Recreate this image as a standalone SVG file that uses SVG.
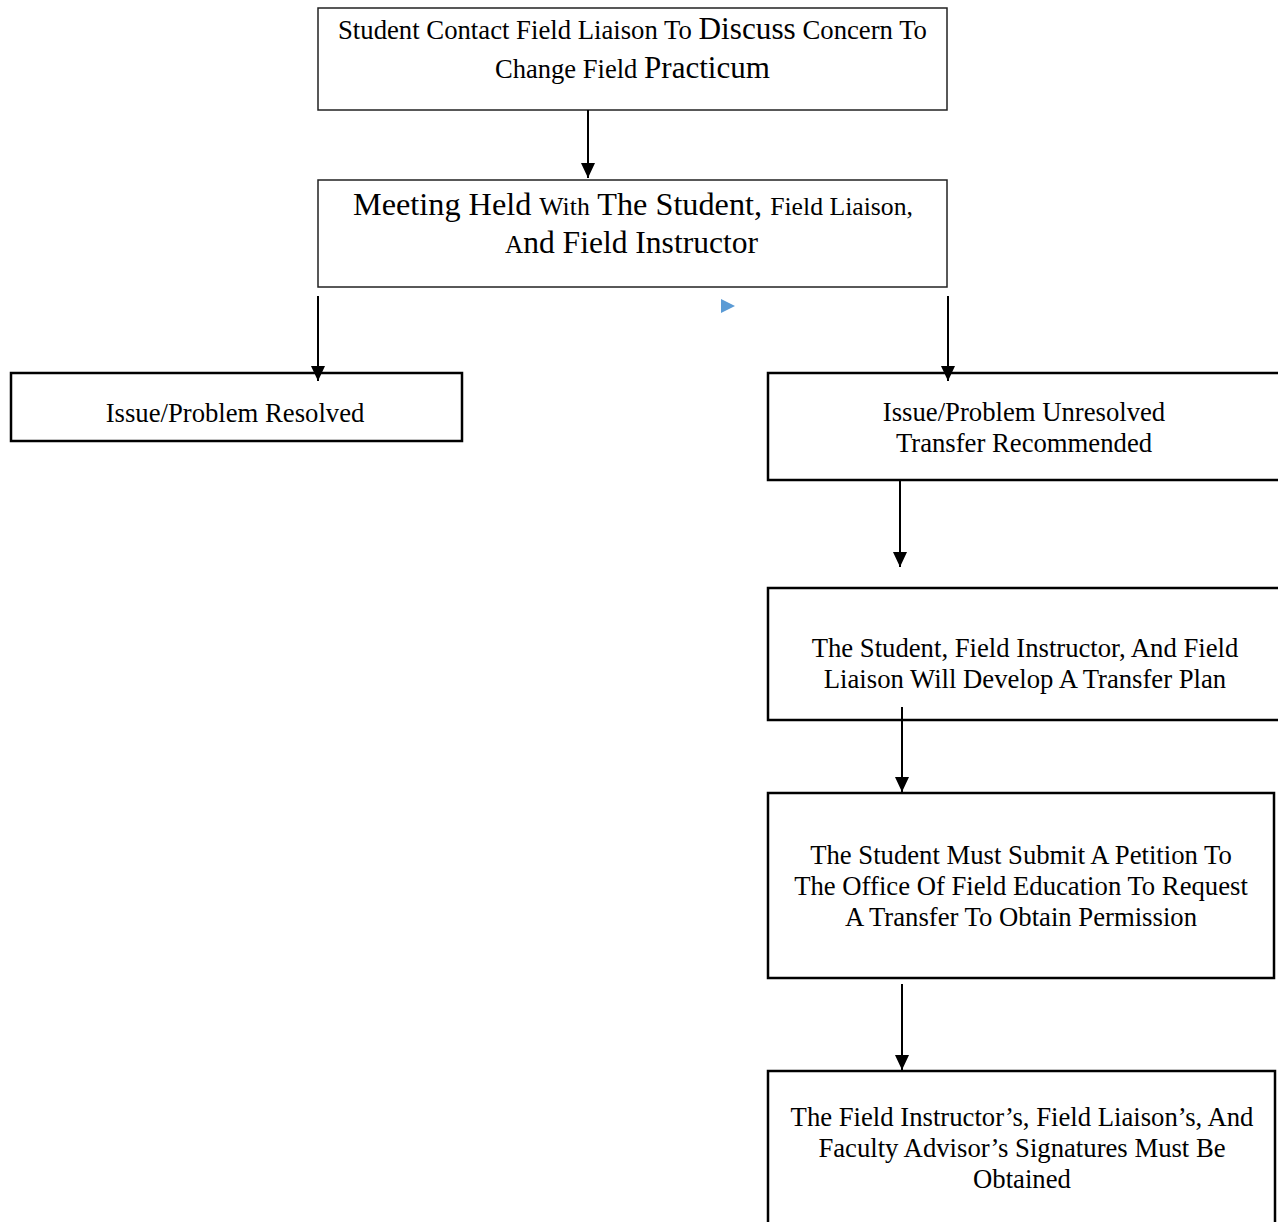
<svg xmlns="http://www.w3.org/2000/svg" width="1278" height="1222" viewBox="0 0 1278 1222">
<defs>
<style>
.box{fill:#fff;stroke:#000;stroke-width:2.5}
.thin{fill:#fff;stroke:#222;stroke-width:1.5}
.t{font-family:"Liberation Serif","Times New Roman",serif;font-size:26.7px;fill:#000;text-anchor:middle}
.s{font-family:"Liberation Serif","Times New Roman",serif;fill:#000;text-anchor:start}
.c{stroke:#000;stroke-width:2;fill:none;marker-end:url(#ah)}
</style>
<marker id="ah" markerUnits="userSpaceOnUse" markerWidth="15" markerHeight="14" refX="15" refY="7" orient="auto" viewBox="0 0 15 14">
<path d="M0,0 L15,7 L0,14 Z" fill="#000"/>
</marker>
</defs>
<g id="n1">
<rect class="thin" x="318" y="8" width="629" height="102"/>
<text class="s" x="338" y="39" textLength="589" lengthAdjust="spacingAndGlyphs" style="font-size:26.5px">Student Contact Field Liaison To <tspan style="font-size:31px">Discuss</tspan> Concern To</text>
<text class="s" x="495" y="78" textLength="275" lengthAdjust="spacingAndGlyphs" style="font-size:26.5px">Change Field <tspan style="font-size:31px">Practicum</tspan></text>
</g>
<g id="n2">
<rect class="thin" x="318" y="180" width="629" height="107"/>
<text class="s" x="353" y="215" textLength="560" lengthAdjust="spacingAndGlyphs" style="font-size:32px">Meeting Held <tspan style="font-size:25.5px">With</tspan> The Student, <tspan style="font-size:25.5px">Field Liaison,</tspan></text>
<text class="s" x="505" y="253" textLength="253" lengthAdjust="spacingAndGlyphs" style="font-size:32px"><tspan style="font-size:25.5px">A</tspan>nd Field Instructor</text>
</g>
<g id="n3">
<rect class="box" x="11" y="373" width="451" height="68"/>
<text class="t" x="235" y="422">Issue/Problem Resolved</text>
</g>
<g id="n4">
<rect class="box" x="768" y="373" width="520" height="107"/>
<text class="t" x="1024" y="421">Issue/Problem Unresolved</text>
<text class="t" x="1024" y="452">Transfer Recommended</text>
</g>
<g id="n5">
<rect class="box" x="768" y="588" width="520" height="132"/>
<text class="t" x="1025" y="657">The Student, Field Instructor, And Field</text>
<text class="t" x="1025" y="688">Liaison Will Develop A Transfer Plan</text>
</g>
<g id="n6">
<rect class="box" x="768" y="793" width="506" height="185"/>
<text class="t" x="1021" y="864">The Student Must Submit A Petition To</text>
<text class="t" x="1021" y="895">The Office Of Field Education To Request</text>
<text class="t" x="1021" y="926">A Transfer To Obtain Permission</text>
</g>
<g id="n7">
<rect class="box" x="768" y="1071" width="507" height="170"/>
<text class="t" x="1022" y="1126">The Field Instructor’s, Field Liaison’s, And</text>
<text class="t" x="1022" y="1157">Faculty Advisor’s Signatures Must Be</text>
<text class="t" x="1022" y="1188">Obtained</text>
</g>
<g id="connectors">
<line class="c" x1="588" y1="110" x2="588" y2="178"/>
<line class="c" x1="318" y1="296" x2="318" y2="381"/>
<line class="c" x1="948" y1="296" x2="948" y2="381"/>
<line class="c" x1="900" y1="480" x2="900" y2="567"/>
<line class="c" x1="902" y1="707" x2="902" y2="792"/>
<line class="c" x1="902" y1="984" x2="902" y2="1070"/>
<path d="M721,299 L735,306 L721,313 Z" fill="#5b9bd5"/>
</g>
</svg>
